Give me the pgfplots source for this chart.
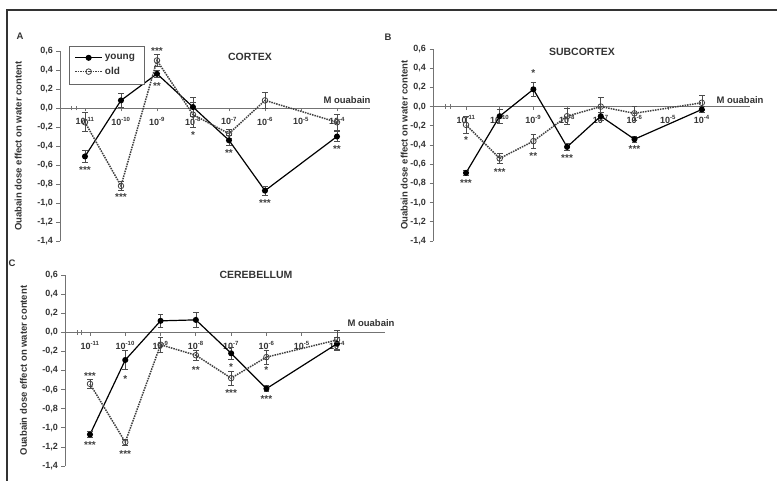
\documentclass[border=0pt]{standalone}
\usepackage{pgfplots}
\usepackage{pgfplotstable}
\pgfplotsset{compat=1.18}
\usepackage{fontspec}
\setmainfont{Liberation Sans}

% ---------------- data ----------------
% x index: 0=1e-11, 1=1e-10, ..., 7=1e-4
\pgfplotstableread{
x y e
0 -0.51 0.06
1 0.08 0.07
2 0.36 0.04
3 0.01 0.10
4 -0.34 0.05
5 -0.87 0.05
7 -0.30 0.05
}\Ayoung
\pgfplotstableread{
x y e
0 -0.15 0.10
1 -0.82 0.05
2 0.50 0.06
3 -0.07 0.13
4 -0.27 0.05
5 0.08 0.08
7 -0.15 0.08
}\Aold
\pgfplotstableread{
x y t
0 -0.63 ***
1 -0.92 ***
2 0.62 ***
2 0.25 **
3 -0.26 *
4 -0.45 **
5 -0.98 ***
7 -0.41 **
}\Astar

\pgfplotstableread{
x y e
0 -0.69 0.03
1 -0.10 0.07
2 0.18 0.07
3 -0.42 0.04
4 -0.10 0.04
5 -0.34 0.03
7 -0.03 0.03
}\Byoung
\pgfplotstableread{
x y e
0 -0.19 0.09
1 -0.54 0.05
2 -0.36 0.07
3 -0.10 0.08
4 0.00 0.10
5 -0.07 0.07
7 0.04 0.08
}\Bold
\pgfplotstableread{
x y t
0 -0.33 *
0 -0.78 ***
1 -0.66 ***
2 0.37 *
2 -0.49 **
3 -0.52 ***
5 -0.42 ***
}\Bstar

\pgfplotstableread{
x y e
0 -1.07 0.03
1 -0.29 0.10
2 0.12 0.07
3 0.13 0.08
4 -0.22 0.06
5 -0.59 0.03
7 -0.12 0.07
}\Cyoung
\pgfplotstableread{
x y e
0 -0.54 0.05
1 -1.15 0.03
2 -0.13 0.08
3 -0.24 0.05
4 -0.48 0.07
5 -0.26 0.07
7 -0.08 0.10
}\Cold
\pgfplotstableread{
x y t
0 -0.44 ***
0 -1.16 ***
1 -0.47 *
1 -1.25 ***
3 -0.37 **
4 -0.34 *
4 -0.62 ***
5 -0.37 *
5 -0.68 ***
}\Cstar

\pgfplotsset{
  panel/.style={
    scale only axis, anchor=south west, clip=false,
    axis y line=left, axis x line=middle,
    axis line style={black!55, line width=0.9pt, -},
    every inner x axis line/.append style={-},
    every outer y axis line/.append style={-},
    hide obscured x ticks=false, hide obscured y ticks=false,
    ymin=-1.4, ymax=0.6,
    ytick={-1.4,-1.2,-1,-0.8,-0.6,-0.4,-0.2,0,0.2,0.4,0.6},
    yticklabel style={/pgf/number format/fixed, /pgf/number format/fixed zerofill,
      /pgf/number format/precision=1, /pgf/number format/use comma,
      /pgf/number format/assume math mode=true,
      font=\fontsize{9}{10}\selectfont\bfseries, text=black!80},
    xtick={0,...,7},
    xticklabels={10\textsuperscript{-11},10\textsuperscript{-10},10\textsuperscript{-9},10\textsuperscript{-8},10\textsuperscript{-7},10\textsuperscript{-6},10\textsuperscript{-5},10\textsuperscript{-4}},
    x tick label style={font=\fontsize{9}{10}\selectfont\bfseries, text=black!80, yshift=-2pt},
    tick style={black!55, line width=0.8pt},
    major tick length=3.5pt,
    tick align=outside,
    ylabel={Ouabain dose effect on water content},
    ylabel style={font=\fontsize{9.5}{11}\selectfont\bfseries, text=black!80, anchor=center},
  },
  young/.style={black, solid, line width=1.2pt, mark=*, mark size=2.4pt,
    mark options={solid, fill=black},
    error bars/.cd, y dir=both, y explicit,
    error bar style={solid, line width=0.6pt, black!70},
    error mark options={rotate=90, mark size=2.8pt, solid, line width=0.6pt, black!70}},
  old/.style={black!75, densely dotted, line width=1.5pt, mark=o, mark size=2.8pt,
    mark options={solid, fill=white, line width=0.8pt},
    error bars/.cd, y dir=both, y explicit,
    error bar style={solid, line width=0.6pt, black!70},
    error mark options={rotate=90, mark size=2.8pt, solid, line width=0.6pt, black!70}},
  stars/.style={only marks, mark=none, forget plot, nodes near coords,
    point meta=explicit symbolic, nodes near coords align=center,
    every node near coord/.append style={font=\fontsize{10}{11}\selectfont\bfseries, text=black!75, inner sep=0pt, yshift=-2pt}},
}

\begin{document}
\begin{tikzpicture}
\useasboundingbox (0,0) rectangle (777pt,480pt);
\draw[black!80, line width=1.3pt] (7pt,-5pt) -- (7pt,470pt) -- (790pt,470pt);

% ---------- Panel A ----------
\begin{axis}[panel, at={(60pt,239pt)}, width=310pt, height=190pt,
  xmin=-0.694, xmax=7.917,
  ylabel style={at={(axis description cs:-0.135,0.5)}},
  legend style={at={(axis cs:-0.444,0.653)}, anchor=north west, draw=black!60, line width=0.8pt,
    font=\fontsize{10}{11}\selectfont\bfseries, text=black!80, inner xsep=5pt, inner ysep=6pt,
    row sep=2pt, text width=32pt},
  legend image code/.code={\draw[mark repeat=2, mark phase=2] plot coordinates {(0pt,0pt)(13.5pt,0pt)(27pt,0pt)};},
  legend cell align=left]
\addplot[young] table[x=x,y=y,y error=e]{\Ayoung};
\addlegendentry{young}
\addplot[old] table[x=x,y=y,y error=e]{\Aold};
\addlegendentry{old}
\addplot[stars] table[x=x,y=y,meta=t]{\Astar};
\draw[black!55, line width=0.8pt] (axis cs:-0.37,-0.025) -- (axis cs:-0.37,0.025)
  (axis cs:-0.23,-0.025) -- (axis cs:-0.23,0.025);
\end{axis}

% ---------- Panel B ----------
\begin{axis}[panel, at={(433pt,239pt)}, width=317pt, height=192pt,
  xmin=-0.98, xmax=8.43,
  ylabel style={at={(axis description cs:-0.091,0.5)}}]
\addplot[young] table[x=x,y=y,y error=e]{\Byoung};
\addplot[old] table[x=x,y=y,y error=e]{\Bold};
\addplot[stars] table[x=x,y=y,meta=t]{\Bstar};
\draw[black!55, line width=0.8pt] (axis cs:-0.62,-0.025) -- (axis cs:-0.62,0.025)
  (axis cs:-0.45,-0.025) -- (axis cs:-0.45,0.025);
\end{axis}

% ---------- Panel C ----------
\begin{axis}[panel, at={(65pt,14pt)}, width=320pt, height=191pt,
  xmin=-0.708, xmax=8.36,
  ylabel style={at={(axis description cs:-0.13,0.5)}}]
\addplot[young] table[x=x,y=y,y error=e]{\Cyoung};
\addplot[old] table[x=x,y=y,y error=e]{\Cold};
\addplot[stars] table[x=x,y=y,meta=t]{\Cstar};
\draw[black!55, line width=0.8pt] (axis cs:-0.37,-0.025) -- (axis cs:-0.37,0.025)
  (axis cs:-0.23,-0.025) -- (axis cs:-0.23,0.025);
\end{axis}

% ---------- titles and labels ----------
\begin{scope}[every node/.style={text=black!80, inner sep=0pt}]
\node[font=\fontsize{10.5}{12}\selectfont\bfseries] at (250pt,423pt) {CORTEX};
\node[font=\fontsize{10.5}{12}\selectfont\bfseries] at (582pt,428pt) {SUBCORTEX};
\node[font=\fontsize{10.5}{12}\selectfont\bfseries] at (256pt,205pt) {CEREBELLUM};
\node[font=\fontsize{9.5}{11}\selectfont\bfseries] at (20pt,444pt) {A};
\node[font=\fontsize{9.5}{11}\selectfont\bfseries] at (388pt,443pt) {B};
\node[font=\fontsize{9.5}{11}\selectfont\bfseries] at (12pt,217pt) {C};
\node[font=\fontsize{9.5}{11}\selectfont\bfseries] at (347pt,380pt) {M ouabain};
\node[font=\fontsize{9.5}{11}\selectfont\bfseries] at (740pt,380pt) {M ouabain};
\node[font=\fontsize{9.5}{11}\selectfont\bfseries] at (371pt,157pt) {M ouabain};
\end{scope}
\end{tikzpicture}
\end{document}
